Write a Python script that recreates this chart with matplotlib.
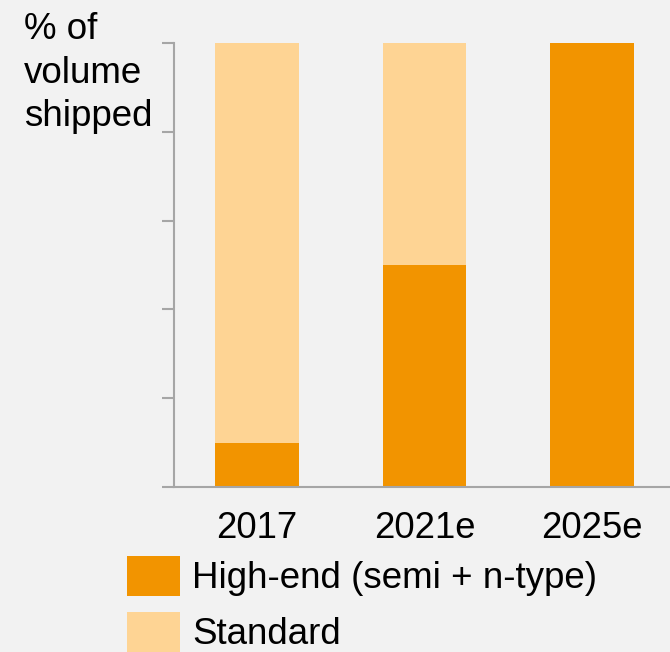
import matplotlib.pyplot as plt
import matplotlib
import numpy as np
from matplotlib.patches import Rectangle

matplotlib.rcParams['font.family'] = ['Liberation Sans', 'DejaVu Sans']

years = ['2017', '2021e', '2025e']
high_end = [10, 50, 100]
standard = [90, 50, 0]
series_names = ['High-end (semi + n-type)', 'Standard']

c_high = '#F29400'
c_std = '#FED494'
c_axis = '#A6A6A6'
bg = '#F2F2F2'

W, H = 670, 652
fig = plt.figure(figsize=(W / 100, H / 100), dpi=100, facecolor=bg)
ax = fig.add_axes([174 / W, 1 - 487 / H, 1 - 174 / W, (487 - 43) / H])
ax.set_facecolor(bg)

x = np.arange(len(years))
ax.bar(x, high_end, width=0.5, color=c_high)
ax.bar(x, standard, width=0.5, bottom=high_end, color=c_std)

ax.set_xlim(-0.496, 2.465)
ax.set_ylim(0, 100)
ax.set_yticks(np.arange(0, 101, 20))
ax.set_yticklabels([])
ax.set_xticks(x)
ax.set_xticklabels(years, fontsize=26.3)

for s in ['top', 'right']:
    ax.spines[s].set_visible(False)
for s in ['left', 'bottom']:
    ax.spines[s].set_color(c_axis)
    ax.spines[s].set_linewidth(1.5)
ax.tick_params(axis='y', direction='out', length=8.6, width=1.5, color=c_axis)
ax.tick_params(axis='x', length=0, pad=17)

fig.text(24 / W, 1 - 12 / H, '% of\nvolume\nshipped', fontsize=26.5,
         ha='left', va='top', linespacing=1.32)

# legend drawn by hand so the swatches line up with the reference
leg_colors = [c_high, c_std]
leg_centers = [576, 632]
for name, col, yc in zip(series_names, leg_colors, leg_centers):
    fig.patches.append(Rectangle((127 / W, 1 - (yc + 20) / H), 53 / W, 40 / H,
                                 transform=fig.transFigure, facecolor=col,
                                 edgecolor='none'))
    fig.text(192 / W, 1 - (yc + 3) / H, name, fontsize=26.5,
             ha='left', va='center')

fig.savefig('out.png', dpi=100, facecolor=bg)
